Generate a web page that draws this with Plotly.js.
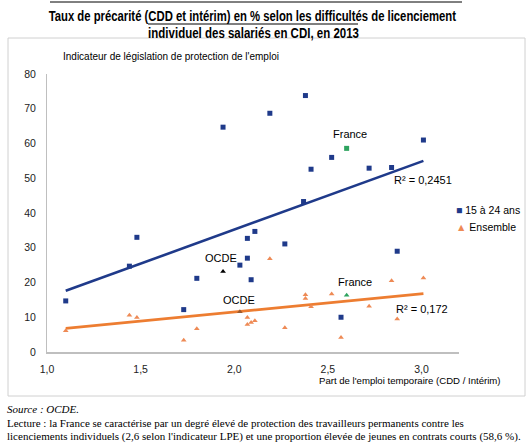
<!DOCTYPE html>
<html>
<head>
<meta charset="utf-8">
<script src="https://cdn.plot.ly/plotly-3.0.1.min.js"></script>
<style>html,body{margin:0;padding:0;background:#fff;}#chart{width:530px;height:446px;}</style>
</head>
<body>
<div id="chart"></div>
<script>
// ---- Data ----
const jeunesX = [1.10,1.44,1.48,1.73,1.80,1.94,2.03,2.07,2.07,2.09,2.11,2.19,2.27,2.37,2.38,2.41,2.52,2.57,2.72,2.84,2.87,3.01];
const jeunesY = [14.7,24.7,33.0,12.2,21.2,64.7,25.0,27.0,32.7,20.8,34.7,68.7,31.1,43.3,73.8,52.6,56.0,10.0,52.9,53.1,29.0,61.0];
const ensembleX = [1.10,1.44,1.48,1.73,1.80,2.07,2.07,2.09,2.11,2.19,2.27,2.38,2.38,2.41,2.52,2.57,2.72,2.84,2.87,3.01];
const ensembleY = [6.1,10.6,9.9,3.4,6.7,9.9,7.9,8.5,9.0,26.8,7.0,16.5,15.4,13.0,16.7,4.2,13.2,20.5,9.5,21.3];
const franceX = [2.60];
const franceJeunesY = [58.6];
const franceEnsembleY = [16.3];
const ocdeJeunesX = [1.94];
const ocdeJeunesY = [23.2];
const ocdeEnsembleX = [2.03];
const ocdeEnsembleY = [11.6];
const trendX = [1.10, 3.01];
const trendJeunesY = [17.6, 55.0];
const trendEnsembleY = [6.8, 16.8];
const r2Jeunes = "R² = 0,2451";
const r2Ensemble = "R² = 0,172";
const seriesNames = ["15 à 24 ans", "Ensemble"];
const yTicks = [0,10,20,30,40,50,60,70,80];
const xTicks = [1.0,1.5,2.0,2.5,3.0];
const titleLines = ["Taux de précarité (CDD et intérim) en % selon les difficultés de licenciement",
                    "individuel des salariés en CDI, en 2013"];

// ---- Layout geometry ----
const W = 530, H = 446, L = 47, T = 74, PW = 412, PH = 278;
const B = H - T - PH, R = W - L - PW;
const px = x => (x - L) / PW;
const py = y => (T + PH - y) / PH;

const BLUE = "#1f3a8a", ORANGE = "#ed7d31", TRI = "#ee8a55", GREEN = "#2ea35f";
const SANS = "Liberation Sans, Arial, sans-serif";
const SERIF = "Liberation Serif, Times New Roman, serif";

const traces = [
  {x: trendX, y: trendJeunesY, mode: "lines", line: {color: BLUE, width: 2.6}, showlegend: false, hoverinfo: "skip"},
  {x: trendX, y: trendEnsembleY, mode: "lines", line: {color: ORANGE, width: 2.6}, showlegend: false, hoverinfo: "skip"},
  {x: jeunesX, y: jeunesY, mode: "markers", name: seriesNames[0], marker: {symbol: "square", size: 5, color: BLUE}},
  {x: ensembleX, y: ensembleY, mode: "markers", name: seriesNames[1], marker: {symbol: "triangle-up", size: 5, color: TRI}},
  {x: franceX, y: franceJeunesY, mode: "markers", showlegend: false, marker: {symbol: "square", size: 5, color: GREEN}},
  {x: franceX, y: franceEnsembleY, mode: "markers", showlegend: false, marker: {symbol: "triangle-up", size: 5, color: GREEN}},
  {x: ocdeJeunesX, y: ocdeJeunesY, mode: "markers", showlegend: false, marker: {symbol: "triangle-up", size: 5, color: "#000"}},
  {x: ocdeEnsembleX, y: ocdeEnsembleY, mode: "markers", showlegend: false, marker: {symbol: "triangle-up", size: 5, color: "#9c5a2e"}}
];

const lab = {family: SANS, size: 11, color: "#000"};
const ann = [
  // title
  {xref:"paper", yref:"paper", x: px(252), y: py(15), text: titleLines[0], showarrow:false, xanchor:"center", yanchor:"middle", font:{family: SANS, size: 15, color:"#000", weight: "bold"}},
  {xref:"paper", yref:"paper", x: px(253), y: py(32), text: titleLines[1], showarrow:false, xanchor:"center", yanchor:"middle", font:{family: SANS, size: 15, color:"#000", weight: "bold"}},
  // axis titles
  {xref:"paper", yref:"paper", x: px(61), y: py(57), text: "Indicateur de législation de protection de l'emploi", showarrow:false, xanchor:"left", yanchor:"middle", font:{family: SANS, size: 10, color:"#000"}},
  {xref:"paper", yref:"paper", x: px(503), y: py(380), text: "Part de l'emploi temporaire (CDD / Intérim)", showarrow:false, xanchor:"right", yanchor:"middle", font:{family: SANS, size: 9.6, color:"#000"}},
  // point labels
  {x: franceX[0], y: franceJeunesY[0], text: "France", showarrow:false, xshift: 3, yshift: 14, font: lab},
  {x: franceX[0], y: franceEnsembleY[0], text: "France", showarrow:false, xshift: 8, yshift: 13, font: lab},
  {x: ocdeJeunesX[0], y: ocdeJeunesY[0], text: "OCDE", showarrow:false, xshift: -2, yshift: 13, font: lab},
  {x: ocdeEnsembleX[0], y: ocdeEnsembleY[0], text: "OCDE", showarrow:false, xshift: -1, yshift: 12, font: lab},
  {x: trendX[1], y: trendJeunesY[1], text: r2Jeunes, showarrow:false, xanchor:"left", xshift: -31, yshift: -19, font: lab},
  {x: trendX[1], y: trendEnsembleY[1], text: r2Ensemble, showarrow:false, xanchor:"left", xshift: -29, yshift: -15, font: lab},
  // legend
  {xref:"paper", yref:"paper", x: px(454), y: py(210), text: '<span style="color:'+BLUE+'">■</span> ' + seriesNames[0], showarrow:false, xanchor:"left", yanchor:"middle", font:{family: SANS, size: 10.5, color:"#000"}},
  {xref:"paper", yref:"paper", x: px(454), y: py(227), text: '<span style="color:'+TRI+'">▲</span> ' + seriesNames[1], showarrow:false, xanchor:"left", yanchor:"middle", font:{family: SANS, size: 10.5, color:"#000"}},
  // footnotes
  {xref:"paper", yref:"paper", x: px(5), y: py(409), text: "<i>Source : OCDE.</i>", showarrow:false, xanchor:"left", yanchor:"middle", font:{family: SERIF, size: 11, color:"#000"}},
  {xref:"paper", yref:"paper", x: px(5), y: py(423), text: "Lecture : la France se caractérise par un degré élevé de protection des travailleurs permanents contre les", showarrow:false, xanchor:"left", yanchor:"middle", font:{family: SERIF, size: 11, color:"#000"}},
  {xref:"paper", yref:"paper", x: px(5), y: py(437), text: "licenciements individuels (2,6 selon l'indicateur LPE) et une proportion élevée de jeunes en contrats courts (58,6 %).", showarrow:false, xanchor:"left", yanchor:"middle", font:{family: SERIF, size: 11, color:"#000"}}
];

const shapes = [
  {type:"rect", xref:"paper", yref:"paper", x0: px(8), x1: px(525), y0: py(38), y1: py(396), line:{color:"#d0d0d0", width:1}},
  {type:"line", xref:"paper", yref:"paper", x0: px(50), x1: px(462), y0: py(2), y1: py(2), line:{color:"#000", width:1}},
  {type:"line", xref:"paper", yref:"paper", x0: px(148), x1: px(358), y0: py(24), y1: py(24), line:{color:"#000", width:1}}
];

const layout = {
  width: W, height: H,
  margin: {l: L, r: R, t: T, b: B, pad: 0},
  paper_bgcolor: "#fff", plot_bgcolor: "#fff",
  separators: ", ",
  showlegend: false,
  font: {family: SANS, size: 10, color: "#000"},
  xaxis: {range: [1, 3.2], tickvals: xTicks, tickformat: ".1f", showgrid: false, zeroline: false,
          showline: true, linecolor: "#bfbfbf", linewidth: 2, ticks: "", ticklabelstandoff: 6,
          tickfont: {family: SANS, size: 10.5, color: "#222"}},
  yaxis: {range: [0, 80], tickvals: yTicks, showgrid: false, zeroline: false,
          showline: true, linecolor: "#bfbfbf", linewidth: 1, ticks: "", ticklabelstandoff: 8,
          tickfont: {family: SANS, size: 10.5, color: "#222"}},
  annotations: ann,
  shapes: shapes
};

// Target widths of the two (narrow, bold) title lines in the reference
const titleWidths = [408, 211];

Plotly.newPlot("chart", traces, layout, {staticPlot: true, displayModeBar: false}).then(function () {
  // emulate a condensed bold face by squeezing the title text horizontally
  document.querySelectorAll("#chart text.annotation-text").forEach(function (el) {
    const i = titleLines.indexOf(el.textContent);
    if (i < 0) return;
    const bb = el.getBBox();
    const s = titleWidths[i] / bb.width;
    const cx = bb.x + bb.width / 2;
    el.setAttribute("transform", "translate(" + cx + ",0) scale(" + s + ",1) translate(" + (-cx) + ",0)");
  });
});
</script>
</body>
</html>
